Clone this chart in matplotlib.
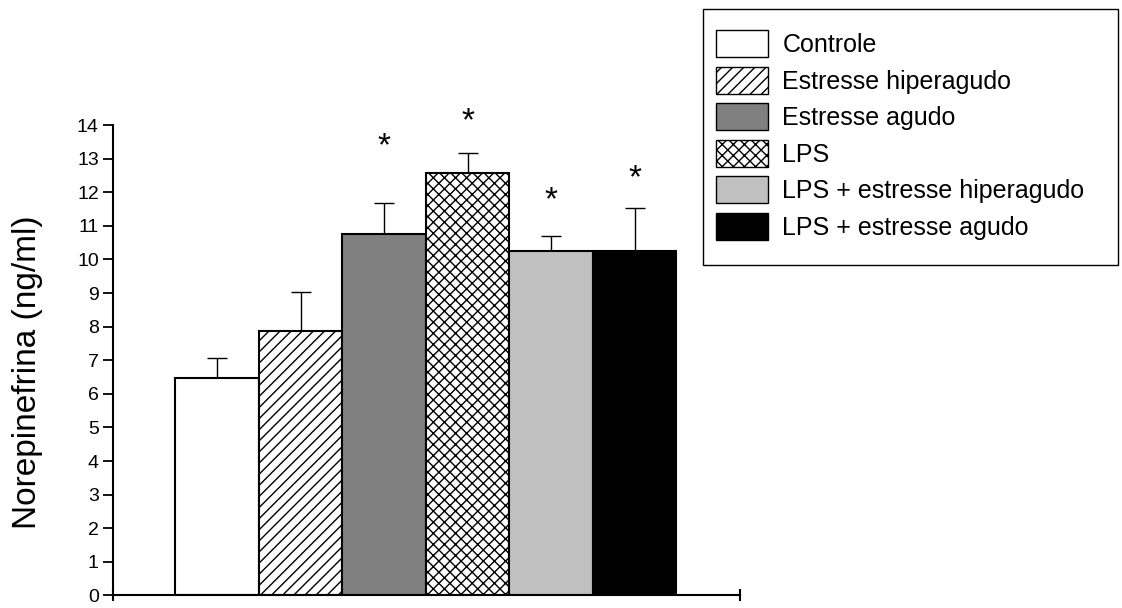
import matplotlib
matplotlib.use("Agg")
import matplotlib.pyplot as plt
from matplotlib.patches import Patch, Rectangle

plt.rcParams["font.family"] = ["Liberation Sans", "DejaVu Sans"]
plt.rcParams["hatch.linewidth"] = 1.0

# --- data ---
groups = ["Controle", "Estresse hiperagudo", "Estresse agudo", "LPS",
          "LPS + estresse hiperagudo", "LPS + estresse agudo"]
means = [6.47, 7.88, 10.76, 12.58, 10.26, 10.26]
sem = [0.60, 1.14, 0.93, 0.58, 0.43, 1.28]
star_groups = [2, 3, 4, 5]
star_heights = [13.09, 13.84, 11.49, 12.14]

facecolors = ["white", "white", "#808080", "white", "#c0c0c0", "black"]
hatches = [None, "///", None, "xxx", None, None]

W, H = 1122, 608
fig = plt.figure(figsize=(W / 100, H / 100), dpi=100)
ax = fig.add_axes([0.1004, 0.0206, 0.5591, 0.7738])

x = list(range(len(groups)))
bars = ax.bar(x, means, width=1.0, color=facecolors, edgecolor="black",
              linewidth=1.5, zorder=2)
for b, h in zip(bars, hatches):
    if h:
        b.set_hatch(h)

ax.errorbar(x, means, yerr=[[0] * len(sem), sem], fmt="none", ecolor="black",
            elinewidth=1.0, capsize=7, capthick=1.0, zorder=1)

for g, h in zip(star_groups, star_heights):
    ax.text(g, h, "*", ha="center", va="baseline", fontsize=24)

ax.set_xlim(-1.25, 6.26)
ax.set_ylim(0, 14)
ax.set_yticks(range(0, 15))
ax.set_xticks([-1.25, 6.26])
ax.set_xticklabels([])
ax.tick_params(axis="y", direction="out", length=7, width=1.3, labelsize=14, pad=3)
ax.tick_params(axis="x", direction="inout", length=9, width=1.5)
for s in ["top", "right"]:
    ax.spines[s].set_visible(False)
for s in ["left", "bottom"]:
    ax.spines[s].set_linewidth(1.5)

fig.text(28 / W, 1 - 372 / H, "Norepinefrina (ng/ml)", rotation=90,
         ha="center", va="center", fontsize=24)

# legend: entries without frame, box drawn separately
handles = [Patch(facecolor=c, edgecolor="black", hatch=h, linewidth=1.0)
           for c, h in zip(facecolors, hatches)]
fig.legend(handles, groups, loc="upper left",
           bbox_to_anchor=(715.5 / W, 1 - 30 / H), fontsize=18,
           frameon=False, handlelength=2.1, handleheight=1.3,
           handletextpad=0.57, labelspacing=0.37, borderpad=0,
           borderaxespad=0)
fig.patches.append(Rectangle((703 / W, 1 - 265 / H), 415 / W, 256 / H,
                             transform=fig.transFigure, fill=False,
                             edgecolor="black", linewidth=1.0))

fig.savefig("out.png", dpi=100)
